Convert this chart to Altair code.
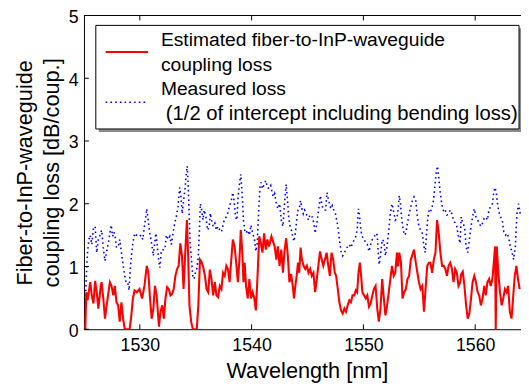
import altair as alt
import pandas as pd

# ---------------- data ----------------
est_wl = [1525.12, 1525.21, 1525.32, 1525.56, 1525.70, 1525.85, 1526.00, 1526.14, 1526.29, 1526.50,
          1526.58, 1526.73, 1526.88, 1527.03, 1527.32, 1527.47, 1527.62, 1527.76, 1527.91, 1528.06,
          1528.20, 1528.35, 1528.50, 1528.65, 1528.88, 1529.09, 1529.24, 1529.38, 1529.53, 1529.74,
          1529.97, 1530.20, 1530.41, 1530.62, 1530.76, 1530.91, 1531.06, 1531.21, 1531.35, 1531.50,
          1531.71, 1531.85, 1532.00, 1532.15, 1532.29, 1532.44, 1532.59, 1532.74, 1532.88, 1533.03,
          1533.18, 1533.33, 1533.47, 1533.62, 1533.77, 1533.91, 1534.06, 1534.21, 1534.33, 1534.44,
          1534.59, 1534.74, 1534.88, 1535.09, 1535.23, 1535.38, 1535.53, 1535.68, 1535.82, 1535.97,
          1536.12, 1536.26, 1536.41, 1536.56, 1536.71, 1536.85, 1537.00, 1537.15, 1537.30, 1537.44,
          1537.59, 1537.74, 1537.88, 1538.03, 1538.18, 1538.32, 1538.47, 1538.62, 1538.77, 1538.91,
          1539.03, 1539.15, 1539.27, 1539.38, 1539.50, 1539.65, 1539.80, 1539.94, 1540.09, 1540.24,
          1540.38, 1540.53, 1540.68, 1540.83, 1540.97, 1541.12, 1541.27, 1541.41, 1541.56, 1541.77,
          1541.91, 1542.06, 1542.21, 1542.35, 1542.50, 1542.65, 1542.80, 1542.94, 1543.09, 1543.24,
          1543.38, 1543.53, 1543.68, 1543.79, 1543.91, 1544.03, 1544.15, 1544.26, 1544.38, 1544.50,
          1544.65, 1544.80, 1544.94, 1545.09, 1545.24, 1545.38, 1545.53, 1545.68, 1545.83, 1545.97,
          1546.12, 1546.27, 1546.41, 1546.56, 1546.71, 1546.86, 1547.00, 1547.15, 1547.30, 1547.44,
          1547.56, 1547.71, 1547.85, 1548.00, 1548.15, 1548.30, 1548.44, 1548.59, 1548.74, 1548.88,
          1549.03, 1549.18, 1549.32, 1549.44, 1549.56, 1549.68, 1549.80, 1549.91, 1550.06, 1550.21,
          1550.35, 1550.50, 1550.65, 1550.80, 1550.94, 1551.09, 1551.24, 1551.38, 1551.53, 1551.68,
          1551.83, 1551.97, 1552.12, 1552.27, 1552.41, 1552.56, 1552.71, 1552.85, 1553.00, 1553.10,
          1553.21, 1553.36, 1553.50, 1553.65, 1553.80, 1553.94, 1554.09, 1554.24, 1554.39, 1554.53,
          1554.68, 1554.83, 1554.97, 1555.12, 1555.27, 1555.42, 1555.56, 1555.71, 1555.86, 1556.00,
          1556.15, 1556.30, 1556.45, 1556.59, 1556.74, 1556.89, 1557.04, 1557.18, 1557.33, 1557.48,
          1557.62, 1557.77, 1557.92, 1558.06, 1558.21, 1558.36, 1558.51, 1558.66, 1558.75, 1558.89,
          1559.04, 1559.19, 1559.33, 1559.48, 1559.63, 1559.77, 1559.92, 1560.07, 1560.22, 1560.36,
          1560.51, 1560.66, 1560.81, 1560.95, 1561.10, 1561.25, 1561.39, 1561.54, 1561.69, 1561.78,
          1561.84, 1561.93, 1562.07, 1562.22, 1562.37, 1562.51, 1562.66, 1562.81, 1562.95, 1563.10,
          1563.25, 1563.39, 1563.54, 1563.69, 1563.83, 1563.98]
est_loss = [0.00, 0.59, 0.46, 0.75, 0.54, 0.41, 0.77, 0.59, 0.33, 0.69,
            0.75, 0.49, 0.17, 0.38, 0.75, 0.69, 0.54, 0.69, 0.43, 0.38,
            0.12, 0.43, 0.17, 0.00, 0.00, 0.00, 0.22, 0.49, 0.62, 0.59,
            0.64, 0.49, 0.69, 1.01, 0.90, 0.49, 0.17, 0.33, 0.69, 0.54,
            0.04, 0.28, 0.38, 0.17, 0.49, 0.67, 0.64, 0.54, 0.56, 0.64,
            0.85, 0.96, 1.01, 1.37, 1.17, 0.64, 1.22, 1.74, 1.11, 0.38,
            0.12, 0.00, 0.00, 0.00, 0.38, 1.11, 1.07, 0.98, 0.85, 0.64,
            0.59, 0.95, 0.80, 0.54, 0.75, 0.54, 0.51, 0.69, 0.64, 0.90,
            0.85, 1.01, 0.96, 0.75, 1.11, 1.43, 1.32, 1.06, 0.75, 1.11,
            1.58, 1.27, 0.75, 1.06, 0.69, 0.49, 0.80, 0.49, 0.59, 0.49,
            0.30, 0.85, 1.48, 1.37, 1.22, 1.53, 1.27, 1.43, 1.32, 1.48,
            1.40, 1.32, 1.11, 1.32, 1.01, 1.27, 0.90, 1.24, 1.45, 1.17,
            0.75, 0.88, 0.69, 0.49, 0.69, 0.85, 1.06, 0.90, 1.30, 1.11,
            1.01, 0.96, 1.01, 0.90, 0.96, 0.85, 0.90, 0.59, 0.80, 1.01,
            1.24, 1.11, 1.01, 1.11, 1.22, 1.01, 0.85, 1.22, 1.11, 0.90,
            0.85, 0.64, 0.43, 0.30, 0.25, 0.33, 0.28, 0.38, 0.46, 0.43,
            0.54, 0.54, 0.62, 0.59, 0.90, 1.06, 0.85, 0.59, 0.54, 0.49,
            0.54, 0.36, 0.41, 0.54, 0.64, 0.69, 0.33, 0.12, 0.33, 0.80,
            0.49, 0.22, 0.38, 0.59, 0.80, 1.01, 0.85, 0.90, 1.22, 1.00,
            1.22, 1.07, 0.49, 0.59, 0.64, 0.80, 0.85, 1.11, 1.19, 1.27,
            1.07, 0.90, 0.75, 0.64, 0.69, 0.28, 0.64, 1.01, 1.06, 1.06,
            0.90, 1.11, 1.22, 1.74, 1.53, 1.22, 1.01, 1.01, 0.96, 0.85,
            1.01, 1.06, 0.96, 0.75, 0.96, 0.90, 0.69, 0.75, 0.88, 0.92,
            0.69, 0.38, 0.17, 0.25, 0.49, 0.75, 0.85, 0.75, 0.59, 0.54,
            0.38, 0.49, 0.69, 0.54, 0.75, 0.80, 0.69, 0.80, 1.11, 1.32,
            0.00, 1.32, 0.90, 0.59, 0.38, 0.49, 0.64, 0.59, 0.69, 0.28,
            0.17, 0.49, 0.85, 1.01, 0.80, 0.64]

meas_wl = [1525.12, 1525.21, 1525.32, 1525.44, 1525.56, 1525.70, 1525.85, 1526.00, 1526.14, 1526.29,
           1526.44, 1526.58, 1526.73, 1526.88, 1527.03, 1527.18, 1527.32, 1527.44, 1527.56, 1527.68,
           1527.79, 1527.91, 1528.06, 1528.20, 1528.35, 1528.50, 1528.65, 1528.79, 1528.94, 1529.03,
           1529.15, 1529.27, 1529.38, 1529.53, 1529.68, 1529.82, 1529.97, 1530.12, 1530.26, 1530.41,
           1530.53, 1530.62, 1530.74, 1530.85, 1530.97, 1531.09, 1531.21, 1531.32, 1531.44, 1531.56,
           1531.68, 1531.79, 1531.91, 1532.03, 1532.15, 1532.26, 1532.38, 1532.53, 1532.68, 1532.82,
           1532.97, 1533.12, 1533.26, 1533.41, 1533.56, 1533.68, 1533.79, 1533.91, 1534.03, 1534.15,
           1534.24, 1534.33, 1534.41, 1534.50, 1534.62, 1534.74, 1534.85, 1534.97, 1535.09, 1535.21,
           1535.32, 1535.41, 1535.53, 1535.65, 1535.76, 1535.91, 1536.06, 1536.21, 1536.30, 1536.41,
           1536.56, 1536.71, 1536.85, 1537.00, 1537.15, 1537.30, 1537.44, 1537.59, 1537.74, 1537.88,
           1538.03, 1538.18, 1538.32, 1538.44, 1538.56, 1538.68, 1538.79, 1538.91, 1539.03, 1539.15,
           1539.27, 1539.38, 1539.50, 1539.65, 1539.80, 1539.94, 1540.09, 1540.24, 1540.38, 1540.50,
           1540.62, 1540.74, 1540.85, 1540.97, 1541.12, 1541.27, 1541.41, 1541.56, 1541.71, 1541.85,
           1541.95, 1542.06, 1542.21, 1542.35, 1542.50, 1542.65, 1542.80, 1542.94, 1543.09, 1543.21,
           1543.32, 1543.44, 1543.56, 1543.68, 1543.79, 1543.91, 1544.03, 1544.15, 1544.26, 1544.38,
           1544.50, 1544.62, 1544.74, 1544.85, 1544.97, 1545.09, 1545.21, 1545.32, 1545.44, 1545.56,
           1545.68, 1545.79, 1545.91, 1546.03, 1546.15, 1546.27, 1546.38, 1546.50, 1546.62, 1546.74,
           1546.85, 1546.97, 1547.09, 1547.21, 1547.35, 1547.50, 1547.71, 1547.85, 1548.00, 1548.15,
           1548.30, 1548.44, 1548.59, 1548.74, 1548.88, 1549.03, 1549.18, 1549.32, 1549.44, 1549.56,
           1549.65, 1549.74, 1549.85, 1549.97, 1550.09, 1550.21, 1550.35, 1550.50, 1550.65, 1550.80,
           1550.94, 1551.09, 1551.24, 1551.32, 1551.41, 1551.53, 1551.68, 1551.83, 1551.97, 1552.12,
           1552.27, 1552.41, 1552.56, 1552.71, 1552.85, 1553.00, 1553.10, 1553.21, 1553.32, 1553.44,
           1553.56, 1553.68, 1553.79, 1553.94, 1554.09, 1554.24, 1554.38, 1554.53, 1554.68, 1554.83,
           1554.97, 1555.12, 1555.27, 1555.42, 1555.53, 1555.65, 1555.77, 1555.88, 1556.00, 1556.15,
           1556.27, 1556.38, 1556.50, 1556.62, 1556.74, 1556.85, 1556.97, 1557.09, 1557.21, 1557.32,
           1557.47, 1557.62, 1557.77, 1557.91, 1558.06, 1558.21, 1558.35, 1558.50, 1558.65, 1558.75,
           1558.89, 1559.04, 1559.19, 1559.33, 1559.48, 1559.63, 1559.77, 1559.92, 1560.07, 1560.22,
           1560.36, 1560.51, 1560.66, 1560.81, 1560.95, 1561.10, 1561.25, 1561.39, 1561.54, 1561.66,
           1561.77, 1561.89, 1562.00, 1562.12, 1562.27, 1562.42, 1562.56, 1562.71, 1562.86, 1563.00,
           1563.15, 1563.30, 1563.44, 1563.59, 1563.74, 1563.88, 1564.03]
meas_loss = [0.38, 0.85, 1.22, 1.43, 1.50, 1.35, 1.61, 1.64, 1.22, 1.43,
             1.50, 1.58, 1.30, 1.09, 1.24, 1.37, 1.53, 1.66, 1.48, 1.55,
             1.48, 1.30, 1.32, 1.43, 1.22, 1.03, 0.85, 0.72, 0.72, 0.62,
             0.96, 1.22, 1.37, 1.53, 1.50, 1.50, 1.48, 1.50, 1.43, 1.64,
             1.79, 1.92, 1.74, 1.58, 1.45, 1.32, 1.17, 1.37, 1.53, 1.32,
             1.11, 0.98, 1.22, 1.22, 1.32, 1.32, 1.50, 1.43, 1.48, 1.35,
             1.53, 1.69, 1.79, 1.95, 2.26, 2.11, 1.84, 2.05, 2.21, 2.47,
             2.60, 2.26, 1.84, 1.37, 1.11, 0.85, 0.80, 0.90, 0.96, 1.11,
             1.53, 2.00, 1.90, 1.74, 1.90, 1.79, 1.58, 1.64, 1.85, 1.74,
             1.64, 1.69, 1.58, 1.64, 1.58, 1.55, 1.66, 1.77, 1.79, 1.86,
             1.97, 2.05, 2.18, 2.03, 1.79, 1.74, 2.11, 2.31, 2.47, 2.16,
             1.74, 1.58, 1.53, 1.58, 1.50, 1.66, 1.53, 1.45, 1.24, 1.37,
             1.84, 2.26, 2.34, 2.24, 2.31, 2.37, 2.26, 2.24, 2.29, 2.16,
             2.11, 2.16, 2.00, 1.92, 2.00, 1.74, 1.64, 2.00, 2.31, 2.05,
             1.79, 1.64, 1.58, 1.48, 1.40, 1.53, 1.74, 1.90, 1.92, 2.05,
             1.92, 1.84, 1.90, 1.87, 1.79, 1.74, 1.82, 1.79, 1.79, 1.69,
             1.53, 1.64, 1.79, 1.95, 2.13, 2.00, 1.92, 1.90, 1.90, 2.18,
             2.08, 2.00, 1.92, 1.97, 1.90, 1.84, 1.64, 1.43, 1.24, 1.17,
             1.22, 1.27, 1.32, 1.35, 1.30, 1.37, 1.43, 1.48, 1.58, 1.92,
             1.82, 1.64, 1.50, 1.45, 1.43, 1.37, 1.35, 1.24, 1.35, 1.43,
             1.45, 1.53, 1.50, 1.24, 1.03, 1.17, 1.43, 1.40, 1.17, 1.32,
             1.58, 1.84, 2.00, 1.87, 1.74, 1.77, 1.90, 2.13, 2.00, 1.74,
             1.58, 1.50, 1.53, 1.69, 1.84, 1.95, 2.05, 2.11, 2.05, 1.79,
             1.64, 1.58, 1.53, 1.32, 1.22, 1.53, 1.79, 1.90, 1.87, 1.95,
             2.05, 2.26, 2.47, 2.60, 2.42, 2.21, 2.05, 1.92, 1.87, 1.90,
             1.82, 1.84, 1.90, 1.84, 1.74, 1.69, 1.64, 1.48, 1.37, 1.79,
             1.69, 1.64, 1.32, 1.22, 1.43, 1.64, 1.79, 1.92, 1.79, 1.74,
             1.69, 1.64, 1.69, 1.77, 1.79, 1.74, 1.92, 1.95, 2.00, 2.18,
             2.26, 2.18, 2.00, 1.87, 1.79, 1.74, 1.55, 1.50, 1.53, 1.45,
             1.32, 1.22, 1.11, 1.32, 1.84, 2.00, 1.84]

x_ticks = [1530, 1540, 1550, 1560]
y_ticks = [0, 1, 2, 3, 4, 5]
x_title = "Wavelength [nm]"
y_title = ["Fiber-to-InP-waveguide", "coupling loss [dB/coup.]"]
legend_est = ["Estimated fiber-to-InP-waveguide", "coupling loss"]
legend_meas = ["Measured loss", "(1/2 of intercept including bending loss)"]

# ---------------- layout / style ----------------
W, H = 443, 318
X_DOMAIN = [1525, 1564.1]
Y_DOMAIN = [0, 5]
FONT = "Liberation Sans"
RED = "#ff0000"
BLUE = "#0000ff"

est = pd.DataFrame({"wl": est_wl, "loss": est_loss})
meas = pd.DataFrame({"wl": meas_wl, "loss": meas_loss})
xt = pd.DataFrame({"wl": x_ticks})
yt = pd.DataFrame({"loss": y_ticks})
one = pd.DataFrame({"k": [0]})

xs = alt.Scale(domain=X_DOMAIN, nice=False, zero=False)
ys = alt.Scale(domain=Y_DOMAIN, nice=False)

x_axis = alt.Axis(values=x_ticks, format="d", ticks=False, grid=False,
                  domainColor="black", domainWidth=1,
                  labelFont=FONT, labelFontSize=18, labelColor="black", labelPadding=8,
                  title=x_title, titleFont=FONT, titleFontSize=22, titleFontWeight="normal",
                  titleColor="black", titleBaseline="alphabetic", titleY=49, titleX=(311 - 85))
y_axis = alt.Axis(values=y_ticks, format="d", ticks=False, grid=False,
                  domainColor="black", domainWidth=1,
                  labelFont=FONT, labelFontSize=18, labelColor="black", labelPadding=6,
                  labelOffset=2,
                  title=y_title, titleFont=FONT, titleFontSize=22, titleFontWeight="normal",
                  titleColor="black", titleAngle=270, titleAlign="center",
                  titleBaseline="alphabetic", titleLineHeight=27, titleX=-53, titleY=H / 2)

X = alt.X("wl:Q", scale=xs, axis=x_axis)
Y = alt.Y("loss:Q", scale=ys, axis=y_axis)

meas_line = alt.Chart(meas).mark_line(color=BLUE, strokeWidth=1.6, strokeDash=[1.6, 3.2],
                                      clip=True).encode(x=X, y=Y)
est_line = alt.Chart(est).mark_line(color=RED, strokeWidth=2.1, clip=True).encode(x=X, y=Y)

# inward ticks (bottom, top, left)
xtick_b = alt.Chart(xt).mark_rule(color="black", strokeWidth=1).encode(
    x=X, y=alt.value(H), y2=alt.value(H - 5))
xtick_t = alt.Chart(xt).mark_rule(color="black", strokeWidth=1).encode(
    x=X, y=alt.value(0), y2=alt.value(5))
ytick_l = alt.Chart(yt).mark_rule(color="black", strokeWidth=1).encode(
    y=Y, x=alt.value(0), x2=alt.value(5))
top_frame = alt.Chart(one).mark_rule(color="black", strokeWidth=1).encode(
    x=alt.value(0), x2=alt.value(W), y=alt.value(0))

# legend box (drawn by hand to match the reference's framed, shadowed legend)
LX0, LX1, LY0, LY1 = 12, 441, 10, 115
shadow = alt.Chart(one).mark_rect(fill="#8c8c8c").encode(
    x=alt.value(LX0 + 3), x2=alt.value(LX1 + 3), y=alt.value(LY0 + 3), y2=alt.value(LY1 + 3))
box = alt.Chart(one).mark_rect(fill="white", stroke="black", strokeWidth=1).encode(
    x=alt.value(LX0), x2=alt.value(LX1), y=alt.value(LY0), y2=alt.value(LY1))
sym_est = alt.Chart(one).mark_rule(color=RED, strokeWidth=2.1).encode(
    x=alt.value(22), x2=alt.value(65), y=alt.value(37))
sym_meas = alt.Chart(one).mark_rule(color=BLUE, strokeWidth=1.6, strokeDash=[1.6, 3.2]).encode(
    x=alt.value(22), x2=alt.value(65), y=alt.value(88))

def legend_text(txt, x, y, size=19.5):
    return alt.Chart(one).mark_text(align="left", baseline="alphabetic", font=FONT,
                                    fontSize=size, color="black").encode(
        x=alt.value(x), y=alt.value(y), text=alt.value(txt))

texts = [legend_text(legend_est[0], 78, 31), legend_text(legend_est[1], 78, 56),
         legend_text(legend_meas[0], 78, 81), legend_text(legend_meas[1], 83, 106, 20.5)]

chart = alt.layer(
    meas_line, est_line, xtick_b, xtick_t, ytick_l, top_frame,
    shadow, box, sym_est, sym_meas, *texts
).properties(
    width=W, height=H,
    padding={"left": 77, "top": 5, "right": 0, "bottom": 60},
    autosize=alt.AutoSizeParams(type="none"),
).configure_view(stroke=None)

chart.save("out.html", embed_options={"renderer": "svg", "actions": False})
